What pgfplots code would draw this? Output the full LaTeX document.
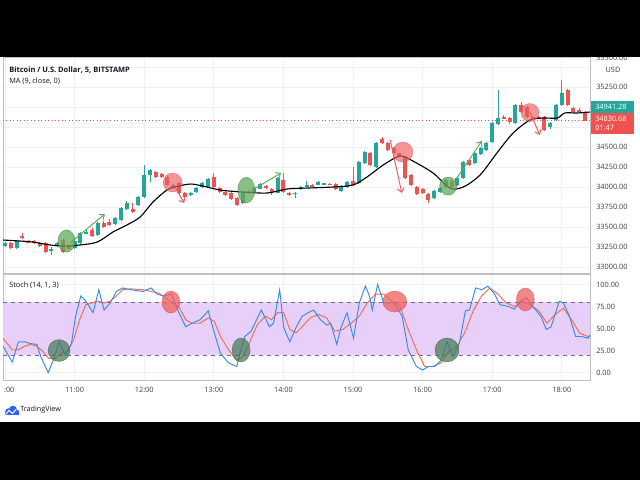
\documentclass[border=0pt]{standalone}
\usepackage{fontspec}
\setmainfont{Open Sans}
\usepackage{pgfplots}
\usepackage{pgfplotstable}
\pgfplotsset{compat=1.18}
\usetikzlibrary{arrows.meta}
\definecolor{cgreen}{RGB}{38,166,154}
\definecolor{cred}{RGB}{239,83,80}
\definecolor{gridc}{RGB}{238,240,246}
\definecolor{borderc}{RGB}{190,190,196}
\definecolor{txt}{RGB}{19,23,34}
\definecolor{axtxt}{RGB}{60,62,70}
\definecolor{stblue}{RGB}{50,140,235}
\definecolor{storange}{RGB}{240,110,80}
\definecolor{bandc}{RGB}{231,207,250}
\definecolor{banddash}{RGB}{120,100,150}
\definecolor{tvblue}{RGB}{41,98,255}
\definecolor{pgreen}{RGB}{100,170,90}
\definecolor{sgreen}{RGB}{65,120,80}
\definecolor{pred}{RGB}{240,95,95}

\pgfplotstableread{
i o h l c
0 33265 33310 33250 33300
2 33240 33340 33230 33325
8 33212 33250 33150 33222
9 33262 33310 33250 33300
12 33237 33335 33225 33325
13 33300 33440 33290 33425
14 33420 33460 33410 33437
16 33400 33560 33390 33550
19 33537 33630 33530 33612
20 33590 33750 33580 33740
21 33725 33820 33710 33800
23 33775 33890 33760 33875
24 33875 34275 33860 34150
25 34150 34230 34060 34212
29 33990 34040 33980 34025
32 33900 33940 33890 33925
33 33937 34000 33925 33987
34 34000 34060 33990 34050
35 34000 34110 33990 34100
41 33800 33950 33790 33937
43 33937 34000 33925 33987
44 33975 34050 33970 34037
47 33925 34125 33920 34112
50 33920 33935 33860 33930
51 33975 34010 33965 34000
52 34000 34075 33995 34025
54 34025 34075 34020 34062
55 34037 34050 34030 34047
58 33950 34020 33935 34012
59 34000 34075 33990 34062
61 34050 34325 34040 34312
62 34300 34450 34290 34437
64 34250 34560 34240 34550
74 33862 33960 33850 33950
75 33937 34000 33925 33987
76 34000 34100 33990 34087
78 34025 34125 34015 34112
79 34112 34325 34100 34312
81 34300 34440 34290 34425
82 34412 34500 34400 34487
83 34462 34560 34450 34550
84 34562 34812 34550 34800
85 34787 35212 34775 34862
88 34800 35040 34790 35025
91 34862 34890 34840 34875
94 34750 34810 34720 34800
95 34837 35040 34830 35025
96 35025 35337 35010 35175
}\upcandles

\pgfplotstableread{
i o h l c
1 33300 33310 33225 33240
3 33385 33420 33350 33360
4 33318 33340 33295 33308
5 33325 33340 33290 33300
6 33300 33310 33250 33262
7 33300 33310 33180 33187
10 33337 33350 33175 33187
11 33270 33290 33220 33230
15 33462 33490 33375 33387
17 33550 33570 33490 33500
18 33562 33600 33515 33525
22 33725 33800 33680 33690
26 34187 34200 34110 34125
27 34162 34175 34110 34125
28 34125 34140 34010 34025
30 34050 34060 33910 33925
31 33925 33940 33860 33875
36 34125 34170 33990 34000
37 33987 34000 33925 33937
38 33937 33950 33890 33900
39 33925 33940 33840 33850
40 33862 33870 33760 33775
42 33950 33960 33915 33925
45 34012 34025 33980 33987
46 33975 33985 33900 33937
48 34087 34175 33925 33937
49 33925 33940 33890 33900
53 34025 34035 33995 34000
56 34040 34050 34020 34025
57 34037 34045 33965 33975
60 34075 34250 34015 34025
63 34425 34440 34260 34275
65 34600 34625 34540 34550
66 34550 34560 34450 34462
67 34487 34500 34410 34425
68 34420 34430 34375 34387
69 34375 34390 34100 34112
70 34150 34160 34010 34025
71 34000 34010 33900 33912
72 33975 33990 33910 33925
73 33912 33920 33800 33837
77 34075 34090 33990 34000
80 34337 34350 34260 34275
86 34875 34900 34850 34862
87 34862 34875 34790 34812
89 35025 35060 34925 34937
90 35000 35010 34860 34875
92 34875 34890 34845 34850
93 34875 34890 34700 34712
97 35212 35225 35010 35025
98 34987 35000 34925 34937
99 34962 34990 34930 34950
100 34937 34950 34820 34831
}\downcandles

\begin{document}
\begin{tikzpicture}[x=0.75pt,y=0.75pt,font=\fontsize{5.5}{6.5}\selectfont]
\fill[white] (0,0) rectangle (640,480);

% ---------------- price pane ----------------
\begin{axis}[
  at={(2.25pt,155.25pt)}, anchor=south west, scale only axis,
  width=440.25pt, height=162pt,
  xmin=-0.35, xmax=100.85, ymin=32925, ymax=35625,
  xtick={0,12,24,36,48,60,72,84,96}, xticklabels={},
  ytick={33000,33250,33500,33750,34000,34250,34500,34750,35000,35250,35500},
  yticklabels={33000.00,33250.00,33500.00,33750.00,34000.00,34250.00,34500.00,{},{},35250.00,{}},
  scaled y ticks=false,
  yticklabel pos=right,
  yticklabel style={anchor=west, inner sep=0pt, xshift=4.5pt, text=axtxt,
     font=\fontsize{5.5}{6}\selectfont},
  tick style={draw=none},
  grid=major, major grid style={draw=gridc, line width=0.75pt},
  axis line style={draw=borderc, line width=0.75pt},
]
% last price dotted line
\addplot[cred, dotted, line width=0.6pt, forget plot] coordinates {(-0.35,34830.68) (100.85,34830.68)};
% wicks
\addplot[draw=none, mark=none, forget plot, error bars/.cd, y dir=both, y explicit, error mark=none,
  error bar style={draw=cgreen, line width=0.75pt}]
  table[x=i, y expr={(\thisrow{h}+\thisrow{l})/2}, y error expr={(\thisrow{h}-\thisrow{l})/2}] {\upcandles};
\addplot[draw=none, mark=none, forget plot, error bars/.cd, y dir=both, y explicit, error mark=none,
  error bar style={draw=cred, line width=0.75pt}]
  table[x=i, y expr={(\thisrow{h}+\thisrow{l})/2}, y error expr={(\thisrow{h}-\thisrow{l})/2}] {\downcandles};
% bodies
\addplot[draw=none, mark=none, forget plot, error bars/.cd, y dir=both, y explicit, error mark=none,
  error bar style={draw=cgreen, line width=3pt}]
  table[x=i, y expr={(\thisrow{o}+\thisrow{c})/2}, y error expr={max(abs(\thisrow{c}-\thisrow{o})/2,5)}] {\upcandles};
\addplot[draw=none, mark=none, forget plot, error bars/.cd, y dir=both, y explicit, error mark=none,
  error bar style={draw=cred, line width=3pt}]
  table[x=i, y expr={(\thisrow{o}+\thisrow{c})/2}, y error expr={max(abs(\thisrow{c}-\thisrow{o})/2,5)}] {\downcandles};
% MA (9)
\addplot[black, line width=0.85pt, smooth, tension=0.5] coordinates {
(-0.35,33337) (2.5,33325) (4.8,33312) (7.8,33275) (10.3,33262) (12.9,33275) (15.9,33312)
(18.6,33437) (21,33525) (23.3,33625) (25.5,33812) (27.9,33962) (29.3,34000) (31.9,34037)
(34.1,34012) (37.1,33962) (41,33937) (45.2,33925) (48.6,33975) (52.1,33987) (56.6,34000)
(60,34025) (62.4,34125) (65.2,34275) (68.1,34387) (70.3,34325) (73.8,34175) (76.7,33987)
(79,34000) (81.9,34150) (84.8,34425) (87.6,34675) (90.5,34837) (92.8,34862) (95.2,34862)
(96.5,34925) (98.6,34925) (100.85,34937)};
% highlight circles
\addplot[only marks, mark=*, mark size=6.4pt, mark options={fill=pgreen, draw=pgreen!70!black, fill opacity=0.75, draw opacity=0.6, line width=0.4pt, yscale=1.3}] coordinates {(10.6,33325)};
\addplot[only marks, mark=*, mark size=6.4pt, mark options={fill=pgreen, draw=pgreen!70!black, fill opacity=0.75, draw opacity=0.6, line width=0.4pt, yscale=1.5}] coordinates {(41.6,33962)};
\addplot[only marks, mark=*, mark size=6.4pt, mark options={fill=pgreen, draw=pgreen!70!black, fill opacity=0.75, draw opacity=0.6, line width=0.4pt, yscale=1.06}] coordinates {(76.4,34012)};
\addplot[only marks, mark=*, mark size=7.1pt, mark options={fill=pred, draw=pred!80!black, fill opacity=0.65, draw opacity=0.5, line width=0.4pt}] coordinates {(28.9,34056)};
\addplot[only marks, mark=*, mark size=7.5pt, mark options={fill=pred, draw=pred!80!black, fill opacity=0.65, draw opacity=0.5, line width=0.4pt}] coordinates {(68.6,34437)};
\addplot[only marks, mark=*, mark size=6.75pt, mark options={fill=pred, draw=pred!80!black, fill opacity=0.65, draw opacity=0.5, line width=0.4pt}] coordinates {(90.5,34931)};
% arrows
\addplot[pgreen, line width=0.75pt, -{Straight Barb[length=3pt,width=5pt]}] coordinates {(11.2,33300) (17.2,33662)};
\addplot[pgreen, line width=0.75pt, -{Straight Barb[length=3pt,width=5pt]}] coordinates {(42.6,33962) (47.6,34175)};
\addplot[pgreen, line width=0.75pt, -{Straight Barb[length=3pt,width=5pt]}] coordinates {(77.9,34112) (82.2,34575)};
\addplot[pred, line width=0.75pt, -{Straight Barb[length=3pt,width=5pt]}] coordinates {(29.3,34000) (30.9,33800)};
\addplot[pred, line width=0.75pt, -{Straight Barb[length=3pt,width=5pt]}] coordinates {(66.4,34587) (68.4,33925)};
\addplot[pred, line width=0.75pt, -{Straight Barb[length=3pt,width=5pt]}] coordinates {(90.5,34937) (92.2,34650)};
\end{axis}

% ---------------- stochastic pane ----------------
\begin{axis}[
  at={(2.25pt,75pt)}, anchor=south west, scale only axis,
  width=440.25pt, height=79.5pt,
  xmin=-0.35, xmax=100.85, ymin=-8.3, ymax=111.8,
  xtick={0,12,24,36,48,60,72,84,96},
  xticklabels={{\phantom{10}:00},{11:00},{12:00},{13:00},{14:00},{15:00},{16:00},{17:00},{18:00}},
  xticklabel style={anchor=center, yshift=-7.5pt, text=axtxt, font=\fontsize{5.5}{6}\selectfont},
  ytick={0,25,50,75,100},
  yticklabels={0.00,25.00,50.00,75.00,100.00},
  yticklabel pos=right,
  yticklabel style={anchor=west, inner sep=0pt, xshift=4.5pt, text=axtxt,
     font=\fontsize{5.5}{6}\selectfont},
  tick style={draw=none},
  grid=major, major grid style={draw=gridc, line width=0.75pt},
  axis line style={draw=borderc, line width=0.75pt},
]
\addplot[draw=none, fill=bandc, forget plot] coordinates {(-0.35,20) (100.85,20) (100.85,80) (-0.35,80) (-0.35,20)};
\addplot[banddash, dashed, line width=0.6pt, forget plot] coordinates {(-0.35,20) (100.85,20)};
\addplot[banddash, dashed, line width=0.6pt, forget plot] coordinates {(-0.35,80) (100.85,80)};
% %D
\addplot[storange, line width=0.7pt] coordinates {
(-0.35,39) (1.25,26) (2.31,26) (3.36,30) (4.42,32) (5.47,30) (6.53,24) (7.58,16) (8.64,16) (9.70,22)
(10.75,24) (11.81,37) (12.86,60) (13.92,77) (14.97,79) (16.03,81) (17.08,79) (18.14,81) (19.20,87)
(20.25,94) (21.66,95) (23.77,94) (25.18,92) (26.58,90) (27.99,83) (29.05,79) (30.10,73) (31.16,60)
(32.22,56) (33.62,56) (35.03,62) (36.09,58) (37.14,41) (38.55,26) (39.96,14) (41.01,18) (42.07,33)
(43.47,54) (44.88,64) (45.94,60) (46.99,68) (48.05,68) (49.10,49) (50.16,45) (51.22,52) (52.62,62)
(54.03,66) (55.44,62) (56.85,47) (58.25,49) (59.66,56) (61.07,64) (62.48,79) (63.88,89) (65.29,89)
(66.70,81) (68.10,75) (69.51,49) (70.92,26) (72.33,7) (73.73,7) (75.14,11) (76.55,24) (77.96,30)
(79.37,47) (80.77,71) (82.18,87) (83.59,96) (85.00,89) (86.40,79) (87.81,75) (89.22,81) (90.63,77)
(92.03,70) (93.44,56) (94.85,66) (96.26,73) (97.66,60) (99.07,45) (100.48,41) (100.85,41)};
% %K
\addplot[stblue, line width=0.7pt] coordinates {
(-0.35,30) (1.25,12) (2.31,35) (3.36,35) (4.42,33) (5.47,32) (6.18,18) (7.44,0) (8.29,14) (9.34,35)
(10.40,20) (11.45,33) (12.16,64) (13.07,87) (13.92,81) (15.18,68) (16.17,94) (17.08,71) (18.14,79)
(19.20,92) (20.25,96) (21.66,94) (23.77,92) (25.18,96) (26.23,89) (27.29,87) (28.70,89) (30.10,66)
(31.16,52) (32.22,56) (33.62,60) (35.03,70) (36.09,45) (37.14,22) (38.55,11) (39.96,7) (40.66,26)
(41.36,41) (42.42,47) (44.18,71) (45.59,52) (46.29,56) (47.35,94) (48.05,51) (49.10,35) (50.16,51)
(51.22,64) (52.27,68) (53.19,71) (54.38,60) (55.44,54) (56.14,56) (57.20,32) (57.90,51) (58.96,68)
(60.08,39) (61.07,79) (62.12,98) (62.83,87) (63.32,71) (64.23,100) (65.29,79) (67.05,79) (68.46,64)
(69.51,26) (70.92,7) (71.98,3) (73.03,7) (74.09,7) (75.14,14) (76.20,35) (77.25,18) (78.31,33)
(79.37,70) (80.07,71) (81.12,96) (82.18,94) (83.24,98) (84.29,90) (85.35,77) (86.75,75) (87.81,72)
(88.87,81) (89.92,85) (90.98,75) (92.38,64) (93.30,49) (94.14,52) (95.55,81) (96.26,79) (97.31,64)
(98.36,41) (99.42,41) (100.48,39) (100.85,43)};
% circles
\addplot[only marks, mark=*, mark size=8.25pt, mark options={fill=sgreen, draw=sgreen!70!black, fill opacity=0.7, draw opacity=0.5, line width=0.4pt}] coordinates {(9.31,25.1)};
\addplot[only marks, mark=*, mark size=6.75pt, mark options={fill=sgreen, draw=sgreen!70!black, fill opacity=0.7, draw opacity=0.5, line width=0.4pt, yscale=1.33}] coordinates {(40.7,25.7)};
\addplot[only marks, mark=*, mark size=9pt, mark options={fill=sgreen, draw=sgreen!70!black, fill opacity=0.7, draw opacity=0.5, line width=0.4pt}] coordinates {(76.2,25.7)};
\addplot[only marks, mark=*, mark size=6.75pt, mark options={fill=pred, draw=pred!80!black, fill opacity=0.75, draw opacity=0.5, line width=0.4pt, yscale=1.22}] coordinates {(28.6,80)};
\addplot[only marks, mark=*, mark size=9pt, mark options={fill=pred, draw=pred!80!black, fill opacity=0.75, draw opacity=0.5, line width=0.4pt, yscale=0.875}] coordinates {(67.2,80.6)};
\addplot[only marks, mark=*, mark size=6.75pt, mark options={fill=pred, draw=pred!80!black, fill opacity=0.75, draw opacity=0.5, line width=0.4pt, yscale=1.28}] coordinates {(89.7,82.9)};
\end{axis}

% ---------------- labels ----------------
\node[anchor=west, inner sep=0pt, text=txt, font=\fontsize{5.6}{6}\selectfont\bfseries] at (9,410) {Bitcoin / U.S. Dollar, 5, BITSTAMP};
\node[anchor=west, inner sep=0pt, text=txt, font=\fontsize{5.5}{6}\selectfont] at (9,399) {MA (9, close, 0)};
\node[anchor=west, inner sep=0pt, text=txt, font=\fontsize{5.5}{6}\selectfont] at (9,195) {Stoch (14, 1, 3)};
% price tags
\fill[cgreen] (591,367) rectangle (634,379);
\node[anchor=west, inner sep=0pt, text=white] at (595,373) {34941.28};
\fill[cred] (591,346) rectangle (634,367);
\node[anchor=west, inner sep=0pt, text=white] at (595,361.5) {34830.68};
\node[anchor=west, inner sep=0pt, text=white] at (595,352) {01:47};
\node[anchor=west, inner sep=0pt, text=axtxt] at (596,422) {35500.00};
\node[inner sep=0.8pt, text=axtxt] at (613,410) {USD};
% TradingView logo
\fill[tvblue] (8.5,68.5) circle (3.2);
\fill[tvblue] (13,70.5) circle (3.8);
\fill[tvblue] (16.8,67.6) circle (2.6);
\fill[tvblue] (5.3,65) rectangle (19.4,68.5);
\draw[white, line width=0.8pt] (5.5,65.5) -- (9,69.5) -- (12.5,66.5) -- (16,70.5);
\node[anchor=west, inner sep=0pt, text=txt, font=\fontsize{5.4}{6}\selectfont] at (20,70) {TradingView};
% black bars
\fill[black] (0,423) rectangle (640,480);
\fill[black] (0,0) rectangle (640,58);
\pgfresetboundingbox
\path (0,0) rectangle (640,480);
\end{tikzpicture}
\end{document}
